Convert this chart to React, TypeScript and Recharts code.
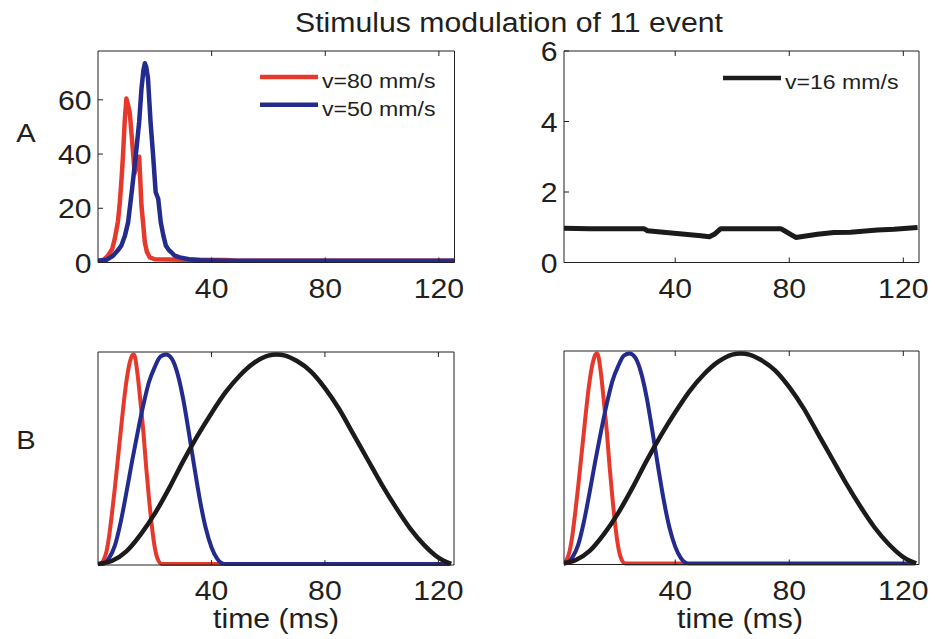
import React from 'react';
import { LineChart, Line, XAxis, YAxis, Legend } from 'recharts';

const FONT = '"Liberation Sans", Arial, Helvetica, sans-serif';
const INK = '#231f20';
const RED = '#e5392b';
const BLUE = '#232b8c';
const BLACK = '#1c1a1b';
const SX = 1.12; // the figure is a little wider than tall

const title = 'Stimulus modulation of 11 event';
const xLabel = 'time (ms)';
const xTicks = [40, 80, 120];
const yTicksA1 = [0, 20, 40, 60];
const yTicksA2 = [0, 2, 4, 6];
const legendA1Names = ['v=80 mm/s', 'v=50 mm/s'];
const legendA2Names = ['v=16 mm/s'];

// row A, left panel (red v=80, blue v=50)
const redTimeA = [0, 2, 3.5, 5, 5.9, 7, 7.6, 8.3, 8.8, 9.4, 10, 10.6, 11.2, 12, 12.9, 13.6, 14.5, 15.3, 16.5, 17.2, 18.2, 20, 30, 45, 50, 125.5];
const redValA = [0.5, 1, 2.5, 5, 8.7, 15, 21, 31, 39.5, 52, 60.5, 58, 55, 45, 33, 36, 39, 21, 7.4, 4, 1.9, 1.2, 1, 0.9, 0.6, 0.6];
const blueTimeA = [0, 3, 5.3, 7, 8.2, 9.5, 10.6, 12, 13.3, 14.5, 15.3, 16, 16.5, 17, 17.6, 18.5, 19.4, 20.3, 21.2, 22.1, 23, 23.9, 25, 25.9, 27, 28.8, 32, 36, 45, 125.5];
const blueValA = [0.6, 1, 2.5, 4.5, 6.2, 10, 14.8, 27.2, 39.5, 51.9, 64, 71, 73.5, 72, 67.9, 51.9, 39.5, 25.9, 23.5, 14.8, 10, 6.2, 4.5, 3.7, 2.5, 1.9, 1.2, 0.8, 0.6, 0.6];

// row A, right panel (black v=16)
const blackTimeA = [1, 10, 20, 29, 30.3, 39.6, 49, 52, 53.7, 56, 65, 77, 79.4, 82.3, 89.9, 95.7, 101.5, 110.9, 116.7, 125];
const blackValA = [0.97, 0.96, 0.96, 0.96, 0.9, 0.83, 0.76, 0.73, 0.8, 0.96, 0.96, 0.96, 0.85, 0.71, 0.8, 0.85, 0.86, 0.92, 0.94, 0.99];

// row B, normalised stimulus profiles (same in both panels)
const redTimeB = [0, 1, 2, 3, 4, 5, 6, 7, 8, 9, 10, 11, 12, 12.5, 13, 14, 15, 16, 17, 18, 19, 20, 21, 22.5, 44];
const redValB = [0, 0, 0.02, 0.06, 0.14, 0.25, 0.37, 0.5, 0.63, 0.76, 0.87, 0.95, 0.995, 1, 0.99, 0.9, 0.77, 0.63, 0.46, 0.31, 0.18, 0.08, 0.025, 0, 0];
const blueTimeB = [0, 1.5, 4, 6, 8, 10, 12, 14, 16, 18, 20, 22, 24, 26, 28, 30, 32, 34, 36, 38, 40, 42, 44.5, 124];
const blueValB = [0, 0, 0.03, 0.09, 0.2, 0.34, 0.49, 0.63, 0.76, 0.87, 0.94, 0.99, 1, 0.98, 0.91, 0.79, 0.63, 0.46, 0.3, 0.17, 0.08, 0.025, 0, 0];
const blackTimeB = [0, 5, 10, 15, 20, 25, 30, 35, 40, 45, 50, 55, 60, 63, 66, 70, 75, 80, 85, 90, 95, 100, 105, 110, 115, 120, 124.5];
const blackValB = [0, 0.015, 0.06, 0.14, 0.24, 0.36, 0.49, 0.61, 0.72, 0.82, 0.9, 0.96, 0.995, 1, 0.995, 0.97, 0.92, 0.84, 0.74, 0.62, 0.5, 0.38, 0.27, 0.17, 0.09, 0.03, 0];

const zip = (ts: number[], vs: number[]) => ts.map((t, i) => ({ t, v: vs[i] }));

type Pt = { t: number; v: number };
type Series = { data: Pt[]; color: string; width: number; name?: string; curve: 'linear' | 'monotone' };

type PanelProps = {
  box: [number, number, number, number];
  xDomain: [number, number];
  yDomain: [number, number];
  yTicks?: number[];
  series: Series[];
  legendAt?: [number, number];
};

const LW = 70, MT = 24, MR = 10, BH = 70;

const XTick = ({ x, y, payload }: any) => (
  <g transform={`translate(${x},${y}) scale(${SX},1)`}>
    <text x={0} y={35.5} textAnchor="middle" fontSize={27} fontFamily={FONT} fill={INK}>
      {payload.value}
    </text>
  </g>
);

const YTick = ({ x, y, payload }: any) => (
  <g transform={`translate(${x},${y}) scale(${SX},1)`}>
    <text x={-6.5 / SX} y={10} textAnchor="end" fontSize={27} fontFamily={FONT} fill={INK}>
      {payload.value}
    </text>
  </g>
);

const NoTick = () => <g />;

const LegendBox = ({ payload, order }: any) => {
  const items = [...(payload || [])].sort(
    (a: any, b: any) => order.indexOf(a.value) - order.indexOf(b.value)
  );
  return (
    <svg width={200} height={30 + 28 * items.length} style={{ display: 'block', overflow: 'visible' }}>
      {items.map((p: any, i: number) => (
        <g key={p.value}>
          <line x1={0} x2={58} y1={15 + i * 27.7} y2={15 + i * 27.7} stroke={p.color} strokeWidth={4.5} />
          <g transform={`translate(62,${26 + i * 27.7}) scale(1.1,1)`}>
            <text fontSize={21} fontFamily={FONT} fill={INK}>{p.value}</text>
          </g>
        </g>
      ))}
    </svg>
  );
};

const Panel = ({ box, xDomain, yDomain, yTicks, series, legendAt }: PanelProps) => {
  const [x0, y0, x1, y1] = box;
  const left = x0 - LW;
  const top = y0 - MT - 1;
  const width = x1 - x0 + LW + 1 + MR;
  const height = y1 - y0 + MT + 1 + BH;
  const names = series.filter((s) => s.name).map((s) => s.name);
  return (
    <div style={{ position: 'absolute', left, top }}>
      <LineChart width={width} height={height} margin={{ top: MT, right: MR, left: 0, bottom: 0 }}>
        <XAxis xAxisId="b" type="number" dataKey="t" domain={xDomain} ticks={xTicks} allowDataOverflow
          height={BH} tickSize={-5} tickMargin={5} tick={<XTick />} stroke={INK} />
        <XAxis xAxisId="t" orientation="top" type="number" dataKey="t" domain={xDomain} ticks={xTicks} allowDataOverflow
          height={1} tickSize={-5} tick={NoTick} stroke={INK} />
        {yTicks ? (
          <YAxis yAxisId="l" type="number" domain={yDomain} ticks={yTicks} width={LW}
            tickSize={-5} tickMargin={5} tick={<YTick />} stroke={INK} />
        ) : (
          <YAxis yAxisId="l" type="number" domain={yDomain} width={LW} tick={false} tickLine={false} stroke={INK} />
        )}
        {yTicks ? (
          <YAxis yAxisId="r" orientation="right" type="number" domain={yDomain} ticks={yTicks} width={1}
            tickSize={-5} tick={NoTick} stroke={INK} />
        ) : (
          <YAxis yAxisId="r" orientation="right" type="number" domain={yDomain} width={1} tick={false} tickLine={false} stroke={INK} />
        )}
        {series.map((s, i) => (
          <Line key={i} xAxisId="b" yAxisId="l" data={s.data} dataKey="v" name={s.name} type={s.curve}
            stroke={s.color} strokeWidth={s.width} dot={false} activeDot={false}
            strokeLinejoin="round" isAnimationActive={false} legendType={s.name ? 'line' : 'none'} />
        ))}
        {legendAt && (
          <Legend layout="vertical" align="center" verticalAlign="middle" content={<LegendBox order={names} />}
            wrapperStyle={{ left: legendAt[0] - left, top: legendAt[1] - 15 - top, width: 200 }} />
        )}
      </LineChart>
    </div>
  );
};

const Label = ({ x, y, text, size = 27 }: { x: number; y: number; text: string; size?: number }) => (
  <g transform={`translate(${x},${y}) scale(${SX},1)`}>
    <text textAnchor="middle" fontSize={size} fontFamily={FONT} fill={INK}>{text}</text>
  </g>
);

export default function App() {
  const rowB: Series[] = [
    { data: zip(redTimeB, redValB), color: RED, width: 4, curve: 'monotone' },
    { data: zip(blueTimeB, blueValB), color: BLUE, width: 4, curve: 'monotone' },
    { data: zip(blackTimeB, blackValB), color: BLACK, width: 4.5, curve: 'monotone' },
  ];
  return (
    <div style={{ position: 'absolute', left: 0, top: 0, width: 935, height: 639, background: '#fff' }}>
      <Panel
        box={[97.5, 50.5, 454, 262]}
        xDomain={[0, 125.5]}
        yDomain={[0, 78]}
        yTicks={yTicksA1}
        series={[
          { data: zip(redTimeA, redValA), color: RED, width: 4.5, curve: 'linear', name: legendA1Names[0] },
          { data: zip(blueTimeA, blueValA), color: BLUE, width: 4.5, curve: 'linear', name: legendA1Names[1] },
        ]}
        legendAt={[259.5, 77.3]}
      />
      <Panel
        box={[563.5, 50.5, 918.5, 262]}
        xDomain={[1, 125.5]}
        yDomain={[0, 6]}
        yTicks={yTicksA2}
        series={[{ data: zip(blackTimeA, blackValA), color: BLACK, width: 5, curve: 'linear', name: legendA2Names[0] }]}
        legendAt={[723, 77.7]}
      />
      <Panel box={[98, 351.5, 454, 564.5]} xDomain={[0, 125.5]} yDomain={[-0.005, 1.012]} series={rowB} />
      <Panel box={[564, 351, 919, 564.5]} xDomain={[1, 125.5]} yDomain={[-0.005, 1.012]} series={rowB} />
      <svg width={935} height={639} style={{ position: 'absolute', left: 0, top: 0, pointerEvents: 'none' }}>
        <Label x={509} y={32.3} text={title} />
        <Label x={26} y={141.7} text="A" size={26} />
        <Label x={26} y={449} text="B" size={26} />
        <Label x={276} y={628.3} text={xLabel} />
        <Label x={740} y={628.3} text={xLabel} />
      </svg>
    </div>
  );
}
